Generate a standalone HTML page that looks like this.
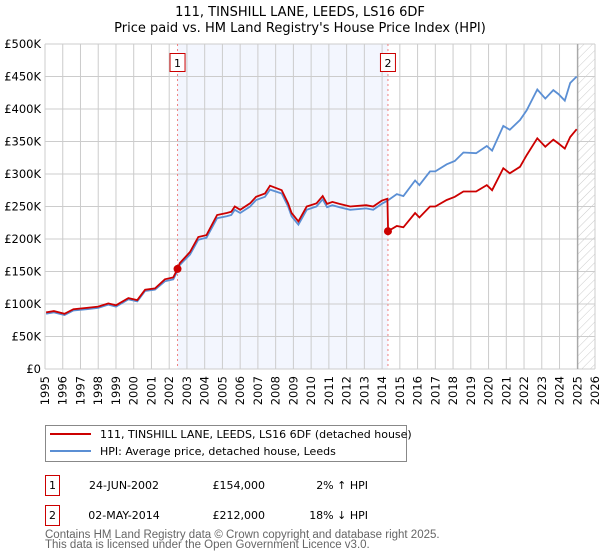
<!DOCTYPE html>
<html><head><meta charset="utf-8">
<style>
body{margin:0;background:#fff;font-family:"Liberation Sans","DejaVu Sans",sans-serif;}
#wrap{position:relative;width:600px;height:560px;overflow:hidden;}
svg text{font-family:"DejaVu Sans","Liberation Sans",sans-serif;}
</style></head>
<body><div id="wrap">
<svg id="chart" width="600" height="560">
<defs>
<pattern id="hatch" width="6" height="6" patternUnits="userSpaceOnUse" patternTransform="rotate(45)">
<line x1="0" y1="0" x2="0" y2="6" stroke="#ccc" stroke-width="1"/></pattern>
</defs>
<text x="300" y="16" text-anchor="middle" font-size="13">111, TINSHILL LANE, LEEDS, LS16 6DF</text>
<text x="300" y="32" text-anchor="middle" font-size="13">Price paid vs. HM Land Registry's House Price Index (HPI)</text>
<g id="grid"></g>
<g id="series"></g>
</svg>
<svg width="600" height="140" style="position:absolute;left:0;top:420px">
<rect x="45.5" y="5.5" width="361" height="36" fill="#fff" stroke="#888"/>
<line x1="50" y1="14" x2="91" y2="14" stroke="#cc0000" stroke-width="2"/>
<text x="100" y="18" font-size="11">111, TINSHILL LANE, LEEDS, LS16 6DF (detached house)</text>
<line x1="50" y1="31" x2="91" y2="31" stroke="#5b8fd4" stroke-width="2"/>
<text x="100" y="35" font-size="11">HPI: Average price, detached house, Leeds</text>
<rect x="45.5" y="55.5" width="14" height="20" fill="#fff" stroke="#cc0000"/>
<text x="52.5" y="69" font-size="11" text-anchor="middle">1</text>
<text x="124" y="69" font-size="11" text-anchor="middle">24-JUN-2002</text>
<text x="265" y="69" font-size="11" text-anchor="end">£154,000</text>
<text x="368" y="69" font-size="11" text-anchor="end">2% ↑ HPI</text>
<rect x="45.5" y="85.5" width="14" height="20" fill="#fff" stroke="#cc0000"/>
<text x="52.5" y="99" font-size="11" text-anchor="middle">2</text>
<text x="124" y="99" font-size="11" text-anchor="middle">02-MAY-2014</text>
<text x="265" y="99" font-size="11" text-anchor="end">£212,000</text>
<text x="368" y="99" font-size="11" text-anchor="end">18% ↓ HPI</text>
</svg>
<div style="position:absolute;left:45px;top:530px;font-size:11.5px;line-height:10px;color:#666;white-space:nowrap">Contains HM Land Registry data © Crown copyright and database right 2025.<br>This data is licensed under the Open Government Licence v3.0.</div>
</div>
<script>
const hpiYears=[1995.06,1995.5,1996.1,1996.6,1997.35,1998.0,1998.57,1999.0,1999.7,2000.2,2000.64,2001.2,2001.76,2002.23,2002.47,2002.6,2003.17,2003.64,2004.1,2004.7,2005.24,2005.5,2005.7,2006.0,2006.56,2006.9,2007.4,2007.68,2008.34,2008.7,2008.9,2009.28,2009.75,2010.3,2010.65,2010.9,2011.2,2011.6,2012.2,2013.1,2013.5,2013.98,2014.3,2014.83,2015.2,2015.86,2016.1,2016.7,2017.0,2017.64,2018.1,2018.58,2019.3,2019.9,2020.2,2020.83,2021.2,2021.77,2022.15,2022.75,2023.2,2023.65,2023.94,2024.3,2024.6,2024.97];
const hpiValues=[85,87,83,90,92,94,99,96,107,104,120,122,135,138,151,160,176,199,202,232,235,237,245,240,250,260,265,276,270,250,235,222,245,250,261,249,252,249,245,247,245,254,259,269,266,290,283,304,304,315,320,333,332,343,336,374,368,383,398,430,416,429,423,413,440,450];
const propYears=[1995.06,1995.5,1996.1,1996.6,1997.35,1998.0,1998.57,1999.0,1999.7,2000.2,2000.64,2001.2,2001.76,2002.23,2002.47,2002.6,2003.17,2003.64,2004.1,2004.7,2005.24,2005.5,2005.7,2006.0,2006.56,2006.9,2007.4,2007.68,2008.34,2008.7,2008.9,2009.28,2009.75,2010.3,2010.65,2010.9,2011.2,2011.6,2012.2,2013.1,2013.5,2013.98,2014.3,2014.34,2014.83,2015.2,2015.86,2016.1,2016.7,2017.0,2017.64,2018.1,2018.58,2019.3,2019.9,2020.2,2020.83,2021.2,2021.77,2022.15,2022.75,2023.2,2023.65,2023.94,2024.3,2024.6,2024.97];
const propValues=[87,89,85,92,94,96,101,98,109,106,122,124,138,141,154,163,180,203,206,237,240,242,250,245,255,265,270,282,275,255,240,227,250,255,266,254,257,254,250,252,250,259,262,212,220,218,240,233,250,250,260,265,273,273,283,275,309,301,311,329,355,342,353,347,339,357,369];
const saleYears=[2002.47,2014.33];
const salePrices=[154,212];
const saleLabels=["1","2"];
const yTicks=[0,50,100,150,200,250,300,350,400,450,500];
const yTickLabels=["£0","£50K","£100K","£150K","£200K","£250K","£300K","£350K","£400K","£450K","£500K"];
const xTicks=[1995,1996,1997,1998,1999,2000,2001,2002,2003,2004,2005,2006,2007,2008,2009,2010,2011,2012,2013,2014,2015,2016,2017,2018,2019,2020,2021,2022,2023,2024,2025,2026];
const dataEnd=2025.03;

const NS="http://www.w3.org/2000/svg";
const X0=45,X1=595,Y0=369,Y1=44;
const xs=y=>X0+(y-1995)/(2026-1995)*(X1-X0);
const ys=v=>Y0-v/500*(Y0-Y1);
function mk(tag,attrs,parent){const e=document.createElementNS(NS,tag);for(const k in attrs)e.setAttribute(k,attrs[k]);parent.appendChild(e);return e;}
const grid=document.getElementById('grid'),ser=document.getElementById('series');
let r=mk('rect',{x:xs(saleYears[0]),y:Y1,width:xs(saleYears[1])-xs(saleYears[0]),height:Y0-Y1,fill:'#f3f6fe'},grid);


let h=mk('rect',{x:xs(dataEnd),y:Y1,width:X1-xs(dataEnd),height:Y0-Y1,fill:'url(#hatch)'},grid);


yTicks.forEach((v,i)=>{
 const l=mk('line',{x1:X0,x2:X1,y1:ys(v),y2:ys(v),stroke:'#cccccc'},grid);
 
 
 const t=mk('text',{x:X0-4,y:ys(v)+4,'text-anchor':'end','font-size':'11.5'},grid);
 t.textContent=yTickLabels[i];
 
 
});
xTicks.forEach(yr=>{
 const l=mk('line',{x1:xs(yr),x2:xs(yr),y1:Y1,y2:Y0,stroke:'#cccccc'},grid);
 
 
 const t=mk('text',{x:0,y:0,'text-anchor':'end','font-size':'11.5',transform:`translate(${xs(yr)+4},${Y0+7}) rotate(-90)`},grid);
 t.textContent=yr;
 
 
});
let el=mk('line',{x1:xs(dataEnd),x2:xs(dataEnd),y1:Y1,y2:Y0,stroke:'#999'},grid);


saleYears.forEach((yr,i)=>{
 const l=mk('line',{x1:xs(yr),x2:xs(yr),y1:Y1,y2:Y0,stroke:'#f08080','stroke-dasharray':'2,3'},grid);
 
 
 const b=mk('rect',{x:xs(yr)-7.5,y:53.5,width:15,height:18,fill:'#fff',stroke:'#cc0000'},grid);
 
 
 const t=mk('text',{x:xs(yr),y:67,'text-anchor':'middle','font-size':'11'},grid);
 t.textContent=saleLabels[i];
 
 
});
const pts=(xa,va)=>xa.map((y,i)=>xs(y).toFixed(1)+','+ys(va[i]).toFixed(1)).join(' ');
let hp=mk('polyline',{points:pts(hpiYears,hpiValues),fill:'none',stroke:'#5b8fd4','stroke-width':1.8},ser);


let pp=mk('polyline',{points:pts(propYears,propValues),fill:'none',stroke:'#cc0000','stroke-width':1.8},ser);


saleYears.forEach((yr,i)=>{
 const c=mk('circle',{cx:xs(yr),cy:ys(salePrices[i]),r:4,fill:'#cc0000'},ser);
 
 
});
</script>
</body></html>
